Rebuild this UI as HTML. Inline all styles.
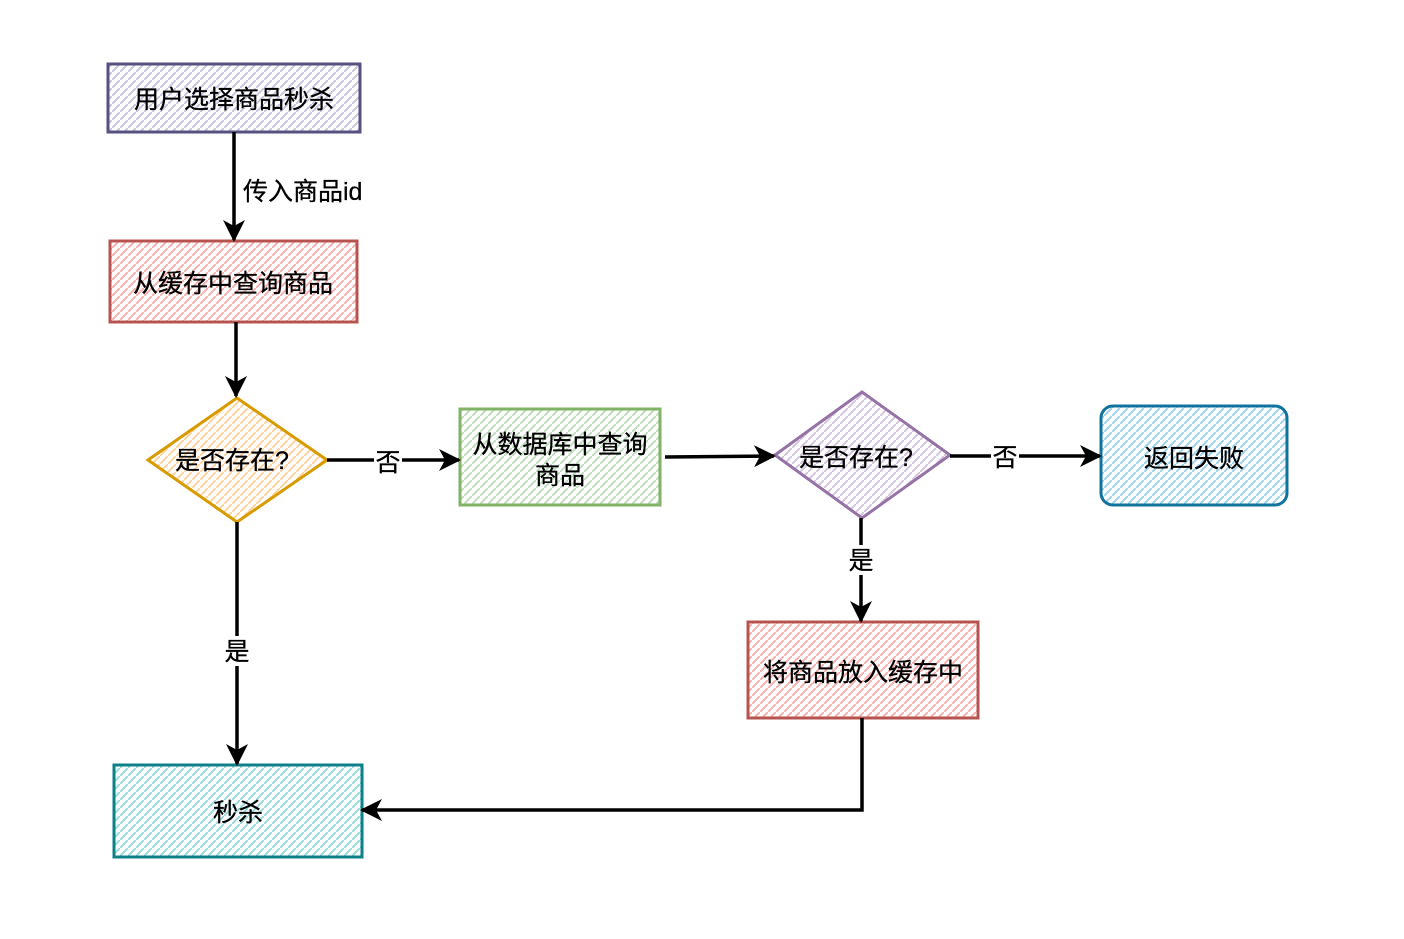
<!DOCTYPE html>
<html><head><meta charset="utf-8"><style>
html,body{margin:0;padding:0;background:#fff;}
text{font-family:"Liberation Sans","Noto Sans CJK SC",sans-serif;font-size:25px;fill:#000;stroke:#000;stroke-width:0.3px;}
</style></head><body>
<svg width="1404" height="934" viewBox="0 0 1404 934" xmlns="http://www.w3.org/2000/svg">
<defs>
<marker id="ar" markerWidth="24" markerHeight="24" refX="20" refY="11" orient="auto" markerUnits="userSpaceOnUse"><path d="M0,0 L22,11 L0,22 L6,11 Z" fill="#000"/></marker>
<pattern id="hp" width="8" height="8" patternUnits="userSpaceOnUse"><path d="M-1,9 L9,-1" stroke="#c8c5de" stroke-width="2"/></pattern>
<pattern id="hr" width="8" height="8" patternUnits="userSpaceOnUse"><path d="M-1,9 L9,-1" stroke="#f5b0ae" stroke-width="2"/></pattern>
<pattern id="ho" width="8" height="8" patternUnits="userSpaceOnUse"><path d="M-1,9 L9,-1" stroke="#ffd3a0" stroke-width="2"/></pattern>
<pattern id="hg" width="8" height="8" patternUnits="userSpaceOnUse"><path d="M-1,9 L9,-1" stroke="#c0ddbd" stroke-width="2"/></pattern>
<pattern id="hv" width="8" height="8" patternUnits="userSpaceOnUse"><path d="M-1,9 L9,-1" stroke="#d5c4de" stroke-width="2"/></pattern>
<pattern id="hb" width="8" height="8" patternUnits="userSpaceOnUse"><path d="M-1,9 L9,-1" stroke="#9dd2ec" stroke-width="2"/></pattern>
<pattern id="ht" width="8" height="8" patternUnits="userSpaceOnUse"><path d="M-1,9 L9,-1" stroke="#98d9dc" stroke-width="2"/></pattern>
</defs>
<rect x="108" y="64" width="252" height="68" fill="url(#hp)" stroke="#56517e" stroke-width="3"/>
<text x="234" y="108" text-anchor="middle">用户选择商品秒杀</text>
<rect x="110" y="241" width="247" height="81" fill="url(#hr)" stroke="#b85450" stroke-width="3"/>
<text x="233" y="292" text-anchor="middle">从缓存中查询商品</text>
<polygon points="148,460 237,398 327,460 237,522" fill="url(#ho)" stroke="#d79b00" stroke-width="3"/>
<text x="232" y="469" text-anchor="middle">是否存在?</text>
<rect x="460" y="409" width="200" height="96" fill="url(#hg)" stroke="#82b366" stroke-width="3"/>
<text x="560" y="453" text-anchor="middle">从数据库中查询</text>
<text x="560" y="484" text-anchor="middle">商品</text>
<polygon points="775,455 862,392 950,455 862,518" fill="url(#hv)" stroke="#9673a6" stroke-width="3"/>
<text x="856" y="466" text-anchor="middle">是否存在?</text>
<rect x="1101" y="406" width="186" height="99" rx="12" fill="url(#hb)" stroke="#10739e" stroke-width="3"/>
<text x="1194" y="467" text-anchor="middle">返回失败</text>
<rect x="748" y="622" width="230" height="96" fill="url(#hr)" stroke="#b85450" stroke-width="3"/>
<text x="863" y="681" text-anchor="middle">将商品放入缓存中</text>
<rect x="114" y="765" width="248" height="92" fill="url(#ht)" stroke="#0e8088" stroke-width="3"/>
<text x="238" y="821" text-anchor="middle">秒杀</text>
<g stroke="#000" stroke-width="3.5" fill="none">
<path d="M234,132 L234,240" marker-end="url(#ar)"/>
<path d="M236,322 L236,396" marker-end="url(#ar)"/>
<path d="M327,460 L459,460" marker-end="url(#ar)"/>
<path d="M665,457 L774,456" marker-end="url(#ar)"/>
<path d="M950,456 L1100,456" marker-end="url(#ar)"/>
<path d="M861,518 L861,621" marker-end="url(#ar)"/>
<path d="M237,522 L237,764" marker-end="url(#ar)"/>
<path d="M862,718 L862,810 L362,810" marker-end="url(#ar)"/>
</g>
<text x="243" y="200">传入商品id</text>
<rect x="374" y="447" width="28" height="28" fill="#fff"/><text x="388" y="471" text-anchor="middle">否</text>
<rect x="991" y="442" width="28" height="28" fill="#fff"/><text x="1005" y="466" text-anchor="middle">否</text>
<rect x="847" y="545" width="28" height="30" fill="#fff"/><text x="861" y="569" text-anchor="middle">是</text>
<rect x="223" y="636" width="28" height="30" fill="#fff"/><text x="237" y="660" text-anchor="middle">是</text>
</svg>
</body></html>
